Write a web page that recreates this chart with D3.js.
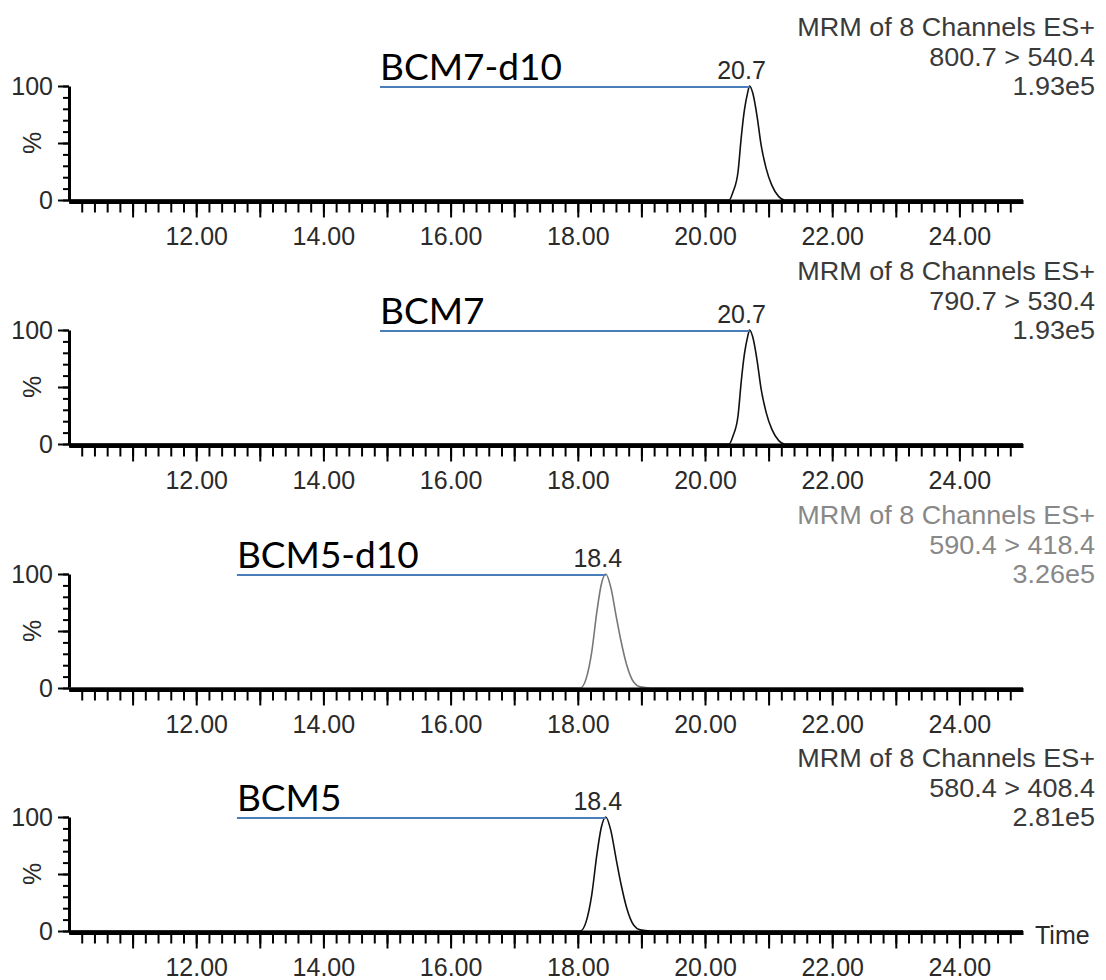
<!DOCTYPE html>
<html>
<head>
<meta charset="utf-8">
<script src="https://cdn.jsdelivr.net/npm/d3@7"></script>
<style>
  html, body { margin: 0; padding: 0; background: #fff; }
  svg { display: block; }
</style>
</head>
<body>
<svg id="chart" width="1106" height="980"></svg>
<script>
// MRM chromatograms, one trace per transition, stacked vertically
const compounds   = ["BCM7-d10", "BCM7", "BCM5-d10", "BCM5"];
const headerTitle = "MRM of 8 Channels ES+";
const transitions = ["800.7 > 540.4", "790.7 > 530.4", "590.4 > 418.4", "580.4 > 408.4"];
const intensities = ["1.93e5", "1.93e5", "3.26e5", "2.81e5"];
const apexTimes   = [20.70, 20.70, 18.44, 18.44];
const labelStartTimes = [14.89, 14.89, 12.64, 12.64];

const timeDomain   = [10, 25];
const xLabelValues = [12, 14, 16, 18, 20, 22, 24];
const xTickLabels  = ["12.00", "14.00", "16.00", "18.00", "20.00", "22.00", "24.00"];
const yLabelValues = [0, 100];
const yTickLabels  = ["0", "100"];
const xAxisTitle   = "Time";

// retention time (min) and relative intensity (%) of each trace
const trace1Time = [10.00, 20.38, 20.44, 20.52, 20.57, 20.62, 20.67, 20.70, 20.75, 20.82, 20.88, 20.96, 21.05, 21.16, 21.25, 25.00];
const trace1Pct  = [0, 0, 7, 25, 55, 79, 94, 100, 94, 73, 49, 28, 13, 3, 0, 0];
const trace2Time = [10.00, 20.38, 20.44, 20.52, 20.57, 20.62, 20.67, 20.70, 20.75, 20.82, 20.88, 20.96, 21.05, 21.16, 21.25, 25.00];
const trace2Pct  = [0, 0, 7, 25, 55, 79, 94, 100, 94, 73, 49, 28, 13, 3, 0, 0];
const trace3Time = [10.00, 18.04, 18.13, 18.22, 18.30, 18.37, 18.44, 18.52, 18.60, 18.68, 18.77, 18.88, 18.98, 19.14, 25.00];
const trace3Pct  = [0, 0, 8, 32, 67, 91, 100, 88, 64, 41, 20, 5, 1, 0, 0];
const trace4Time = [10.00, 18.04, 18.13, 18.22, 18.30, 18.37, 18.44, 18.52, 18.60, 18.68, 18.77, 18.88, 18.98, 19.14, 25.00];
const trace4Pct  = [0, 0, 8, 32, 67, 91, 100, 88, 64, 41, 20, 5, 1, 0, 0];

const traceTimes = [trace1Time, trace2Time, trace3Time, trace4Time];
const tracePcts  = [trace1Pct, trace2Pct, trace3Pct, trace4Pct];

// layout
const panelTops   = [86, 330, 574, 817];
const panelHeight = 114;
const xLeft = 69, xRight = 1023;
const headerRight = 1095;
const numFont = "'Liberation Sans', Arial, sans-serif";
const nameFont = "Lato, 'Open Sans', sans-serif";
const traceColors  = ["#111", "#111", "#777", "#111"];
const headerColors = ["#3a3a3a", "#3a3a3a", "#888", "#3a3a3a"];

const svg = d3.select("#chart");
const x = d3.scaleLinear().domain(timeDomain).range([xLeft, xRight]);

const minorX = d3.range(10.2, 24.9, 0.2).map(v => +v.toFixed(1));
const majorX = d3.range(11, 25, 1);

compounds.forEach((name, i) => {
  const top = panelTops[i];
  const y = d3.scaleLinear().domain([0, 100]).range([top + panelHeight, top]);
  const g = svg.append("g").attr("class", "panel");
  const axisY = y(0) + 1.5;

  // x axis: minor ticks, major ticks, labels
  const xMinor = g.append("g").attr("transform", `translate(0,${axisY})`)
    .call(d3.axisBottom(x).tickValues(minorX).tickSize(11).tickSizeOuter(0).tickFormat(""));
  xMinor.select(".domain").attr("stroke", "#000").attr("stroke-width", 4);
  xMinor.selectAll(".tick line").attr("stroke", "#000").attr("stroke-width", 2);

  const xMajor = g.append("g").attr("transform", `translate(0,${axisY})`)
    .call(d3.axisBottom(x).tickValues(majorX).tickSize(16).tickSizeOuter(0).tickFormat(""));
  xMajor.select(".domain").remove();
  xMajor.selectAll(".tick line").attr("stroke", "#000").attr("stroke-width", 2);

  const xLab = g.append("g").attr("transform", `translate(0,${axisY})`)
    .call(d3.axisBottom(x).tickValues(xLabelValues).tickSize(0)
      .tickFormat(d => xTickLabels[xLabelValues.indexOf(d)]));
  xLab.select(".domain").remove();
  xLab.selectAll(".tick text")
    .attr("y", 43).attr("dy", null)
    .attr("font-family", numFont).attr("font-size", 25).attr("fill", "#2a2a2a");

  // y axis: minor every 10 %, major at 0/50/100
  const yMinor = g.append("g").attr("transform", `translate(${xLeft},0)`)
    .call(d3.axisLeft(y).tickValues(d3.range(0, 101, 10)).tickSize(6).tickSizeOuter(0).tickFormat(""));
  yMinor.select(".domain").attr("stroke", "#000").attr("stroke-width", 3);
  yMinor.selectAll(".tick line").attr("stroke", "#000").attr("stroke-width", 2);

  const yMajor = g.append("g").attr("transform", `translate(${xLeft},0)`)
    .call(d3.axisLeft(y).tickValues([0, 50, 100]).tickSize(11).tickPadding(5)
      .tickFormat(d => { const k = yLabelValues.indexOf(d); return k < 0 ? "" : yTickLabels[k]; }));
  yMajor.select(".domain").remove();
  yMajor.selectAll(".tick line").attr("stroke", "#000").attr("stroke-width", 2);
  yMajor.selectAll(".tick text")
    .attr("font-family", numFont).attr("font-size", 25).attr("fill", "#2a2a2a");

  g.append("text")
    .attr("transform", `translate(32,${y(50)}) rotate(-90)`)
    .attr("text-anchor", "middle").attr("dominant-baseline", "central")
    .attr("font-family", numFont).attr("font-size", 25).attr("fill", "#2a2a2a")
    .text("%");

  // trace
  const pts = traceTimes[i].map((t, k) => [t, tracePcts[i][k]]);
  const line = d3.line().x(d => x(d[0])).y(d => y(d[1])).curve(d3.curveMonotoneX);
  g.append("path").datum(pts)
    .attr("d", line).attr("fill", "none")
    .attr("stroke", traceColors[i]).attr("stroke-width", 1.6);

  // redraw baseline over the trace foot
  g.append("line")
    .attr("x1", xLeft).attr("x2", xRight).attr("y1", axisY).attr("y2", axisY)
    .attr("stroke", "#000").attr("stroke-width", 4);

  // apex label
  g.append("text")
    .attr("x", x(apexTimes[i]) - 8).attr("y", y(100) - 7)
    .attr("text-anchor", "middle")
    .attr("font-family", numFont).attr("font-size", 25).attr("fill", "#2a2a2a")
    .text(d3.format(".1f")(apexTimes[i]));

  // compound name with leader line to the apex
  g.append("line")
    .attr("x1", x(labelStartTimes[i])).attr("x2", x(apexTimes[i]))
    .attr("y1", y(100) + 1).attr("y2", y(100) + 1)
    .attr("stroke", "#4a7ebb").attr("stroke-width", 2);
  g.append("text")
    .attr("x", x(labelStartTimes[i])).attr("y", y(100) - 6)
    .attr("font-family", nameFont).attr("font-size", 37).attr("fill", "#000")
    .text(name);

  // channel header, right aligned
  const hdr = [headerTitle, transitions[i], intensities[i]];
  const hdrOffsets = [-50, -20, 9];
  hdr.forEach((txt, k) => {
    g.append("text")
      .attr("transform", `translate(${headerRight},${top + hdrOffsets[k]}) scale(1.08,1)`)
      .attr("text-anchor", "end")
      .attr("font-family", numFont).attr("font-size", 25).attr("fill", headerColors[i])
      .text(txt);
  });

  if (i === compounds.length - 1) {
    g.append("text")
      .attr("x", 1035).attr("y", axisY + 11)
      .attr("font-family", numFont).attr("font-size", 25).attr("fill", "#2a2a2a")
      .text(xAxisTitle);
  }
});
</script>
</body>
</html>
